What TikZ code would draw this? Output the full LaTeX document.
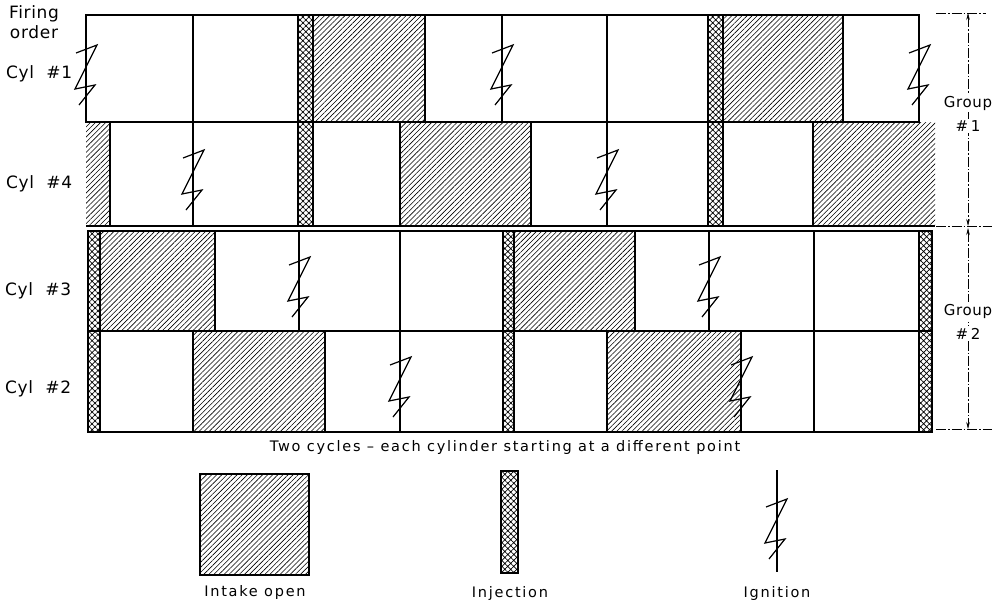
\documentclass[tikz,border=0pt]{standalone}
\usepackage{fontspec}
\newfontfamily\chartfont[LetterSpace=4]{DejaVu Sans}
\newfontfamily\widefont[LetterSpace=12]{DejaVu Sans}
\usetikzlibrary{arrows.meta, patterns.meta}

\begin{document}
\begin{tikzpicture}[x=1pt, y=-1pt,
		frame/.style={line width=1.6pt},
		cell/.style={line width=1.2pt},
		intake/.style={pattern={Lines[angle=45, distance=3.6pt, line width=0.6pt]}},
		inject/.style={draw, line width=1.4pt,
			pattern={Hatch[angle=45, distance=4.2pt, line width=0.7pt]}},
		spark/.pic={\draw[line width=1.2pt]
			(-10,-22) -- (11,-30) -- (-11,14) -- (9,10) -- (-7,30);},
		cyltext/.style={font=\chartfont\fontsize{17}{20}\selectfont, inner sep=0pt},
		grptext/.style={font=\chartfont\fontsize{15}{18}\selectfont, fill=white, inner sep=1.5pt},
		legtext/.style={font=\widefont\fontsize{14.5}{17}\selectfont, inner sep=0pt},
		grpline/.style={line width=0.5pt, dash pattern=on 10pt off 2pt on 1.5pt off 2pt},
		grparrow/.style={grpline, {Stealth[length=7pt, width=3.5pt]}-{Stealth[length=7pt, width=3.5pt]}}
		]
		\useasboundingbox (0,0) rectangle (996,605);
		
		\node[cyltext, anchor=base] (firing) at (34,18) {Firing};
		\node[cyltext, anchor=base] (order) at (34,38) {order};
		\node[cyltext, anchor=base west] (cyl1) at (6,78) {Cyl~~\#1};
		\node[cyltext, anchor=base west] (cyl4) at (6,188) {Cyl~~\#4};
		\node[cyltext, anchor=base west] (cyl3) at (5,295) {Cyl~~\#3};
		\node[cyltext, anchor=base west] (cyl2) at (5,393) {Cyl~~\#2};
		
		% cylinder 1
		\fill[intake] (313,15) rectangle (425,122) (723,15) rectangle (843,122);
		\foreach \x in {193,425,502,607,843} \draw[cell] (\x,15) -- (\x,122);
		\draw[inject] (298,15) rectangle (313,122) (708,15) rectangle (723,122);
		\draw[frame] (86,15) rectangle (919,122);
		
		% cylinder 4
		\fill[intake] (86,122) rectangle (110,226) (400,122) rectangle (531,226)
		(813,122) rectangle (935,226);
		\foreach \x in {110,193,400,531,607,813} \draw[cell] (\x,122) -- (\x,226);
		\draw[inject] (298,122) rectangle (313,226) (708,122) rectangle (723,226);
		\draw[frame] (86,226) -- (935,226);
		
		% cylinder 3
		\fill[intake] (100,231) rectangle (215,331) (514,231) rectangle (635,331);
		\foreach \x in {215,299,400,635,709,814} \draw[cell] (\x,231) -- (\x,331);
		\draw[inject] (88,231) rectangle (100,331) (503,231) rectangle (514,331)
		(919,231) rectangle (932,331);
		\draw[frame] (88,231) -- (932,231) (88,331) -- (932,331);
		
		% cylinder 2
		\fill[intake] (193,331) rectangle (325,432) (607,331) rectangle (741,432);
		\foreach \x in {193,325,400,607,741,814} \draw[cell] (\x,331) -- (\x,432);
		\draw[inject] (88,331) rectangle (100,432) (503,331) rectangle (514,432)
		(919,331) rectangle (932,432);
		\draw[frame] (88,432) -- (932,432);
		
		\foreach \x/\y in {86/75, 502/75, 919/75, 193/180, 607/180,
			299/287, 709/287, 400/387, 741/387}
		\pic at (\x,\y) {spark};
		
		% groups
		\coordinate (g1top) at (968,13);
		\coordinate (g1bot) at (968,226);
		\coordinate (g2top) at (968,228);
		\coordinate (g2bot) at (968,429);
		\draw[grpline] (g1top) ++(-32,0) -- ++(50,0);
		\draw[grpline] (g1bot) ++(-32,0) -- ++(56,0);
		\draw[grpline] (g2bot) ++(-32,0) -- ++(56,0);
		\draw[grparrow] (g1top) -- (g1bot);
		\draw[grparrow] (g2top) -- (g2bot);
		\node[grptext, anchor=base] (grp1) at (968,107) {Group};
		\node[grptext, anchor=base] (grp1no) at (968,131) {\#\,1};
		\node[grptext, anchor=base] (grp2) at (968,315) {Group};
		\node[grptext, anchor=base] (grp2no) at (968,339) {\#\,2};
		
		\node[legtext] (caption) at (505,447)
		{Two cycles – each cylinder starting at a different point};
		
		% legend
		\draw[intake, frame] (200,474) rectangle (309,575);
		\draw[inject] (501,471) rectangle (518,573);
		\coordinate (igntop) at (777,470);
		\coordinate (ignbot) at (777,572);
		\draw[cell] (igntop) -- (ignbot);
		\pic at (776,529) {spark};
		\node[legtext, anchor=base] (intaketext) at (255,596) {Intake open};
		\node[legtext, anchor=base] (injecttext) at (510,597) {Injection};
		\node[legtext, anchor=base] (igntext) at (777,597) {Ignition};
	\end{tikzpicture}
\end{document}
